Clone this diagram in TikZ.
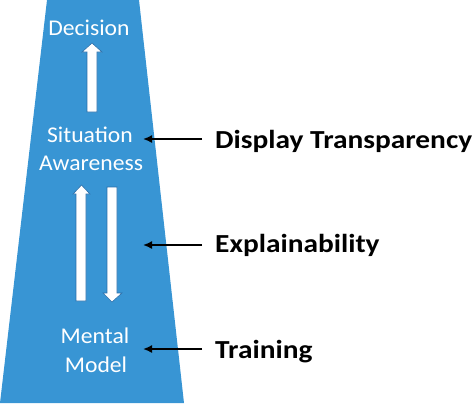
\documentclass[tikz,border=0pt]{standalone}
\usepackage{fontspec}
\setmainfont{Carlito}
\usetikzlibrary{arrows.meta}
\definecolor{trapblue}{RGB}{56,149,212}
\definecolor{edgeblue}{RGB}{40,110,170}
\newcommand{\wstretch}[1]{\scalebox{1.05}[1]{#1}}
\newcommand{\bstretch}[1]{\scalebox{1.13}[1]{#1}}
\begin{document}
\begin{tikzpicture}[x=1pt,y=-1pt,
  wlabel/.style={text=white,inner sep=0pt,anchor=base,font=\fontsize{22.5}{27}\selectfont},
  blabel/.style={text=black,inner sep=0pt,anchor=base west,font=\fontsize{26}{30}\selectfont\bfseries},
  blockarrow/.style={fill=white,draw=edgeblue,line width=0.6pt},
  pointer/.style={draw=black,line width=1.6pt,-{Latex[length=9pt,width=8pt]}}]
\useasboundingbox (0,0) rectangle (474,408);
\fill[trapblue] (47,0) -- (139,0) -- (184,403) -- (0,403) -- cycle;
% white labels
\node[wlabel] (dec) at (89,35) {\wstretch{Decision}};
\node[wlabel] (sit) at (90,142) {\wstretch{Situation}};
\node[wlabel] (awa) at (91,170) {\wstretch{Awareness}};
\node[wlabel] (men) at (95,343) {\wstretch{Mental}};
\node[wlabel] (mod) at (96,372) {\wstretch{Model}};
% block arrows
\filldraw[blockarrow] (87,112) -- (87,52) -- (82,52) -- (92,43) -- (102,52) -- (97,52) -- (97,112) -- cycle;
\filldraw[blockarrow] (76,301) -- (76,194) -- (73,194) -- (81.5,185) -- (90,194) -- (86,194) -- (86,301) -- cycle;
\filldraw[blockarrow] (107,187) -- (117,187) -- (117,293) -- (122,293) -- (112,302) -- (103,293) -- (107,293) -- cycle;
% black labels
\node[blabel] (dt) at (215,148) {\bstretch{Display Transparency}};
\node[blabel] (ex) at (215,252.5) {\bstretch{Explainability}};
\node[blabel] (tr) at (215,358) {\bstretch{Training}};
\coordinate (dtt) at (143,139);
\coordinate (ext) at (143,245);
\coordinate (trt) at (143,349);
\draw[pointer] (dt.west |- dtt) ++(-13,0) -- (dtt);
\draw[pointer] (ex.west |- ext) ++(-13,0) -- (ext);
\draw[pointer] (tr.west |- trt) ++(-13,0) -- (trt);
\end{tikzpicture}
\end{document}
